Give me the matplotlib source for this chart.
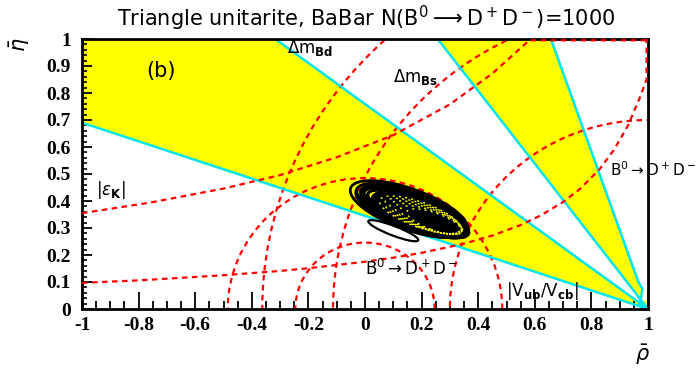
import numpy as np
import matplotlib.pyplot as plt
from matplotlib.patches import Polygon, Arc, Ellipse

# yellow bands (B0 -> D+D-), corners
band1_x = [-1.0, -1.0, -0.317, 1.0]
band1_y = [0.69, 1.0, 1.0, 0.0]
band2_x = [0.257, 0.657, 0.966, 0.98, 0.976, 0.97, 1.0]
band2_y = [1.0, 1.0, 0.10, 0.075, 0.045, 0.02, 0.0]
tip_x = [0.96, 0.995, 0.995]
tip_y = [0.012, 0.0, 0.035]

# cyan band edges
cyan_lines = [
    ([-1.0, 1.0], [0.69, 0.0]),
    ([-0.317, 1.0], [1.0, 0.0]),
    ([0.257, 1.0], [1.0, 0.0]),
    (band2_x[1:6], band2_y[1:6]),
]

# |Vub/Vcb| circles around (0,0), dm circles around (1,0)
circ_cx = [0.0, 0.0, 1.0, 1.0, 1.0]
circ_r = [0.485, 0.246, 1.363, 1.113, 0.70]

# |eps_K| hyperbolas (clipped onto the frame like in the original)
epsk1_x = [-1.0, -0.76, -0.5, -0.3, -0.1, 0.1, 0.3, 0.45, 0.58, 0.995]
epsk1_y = [0.355, 0.394, 0.446, 0.496, 0.562, 0.644, 0.758, 0.872, 0.995, 0.995]
epsk2_x = [-1.0, -0.8, -0.5, -0.3, -0.2, 0.0, 0.1, 0.2, 0.35, 0.45, 0.55,
           0.62, 0.7, 0.76, 0.83, 0.88, 0.93, 0.97, 0.995, 0.995]
epsk2_y = [0.097, 0.106, 0.125, 0.141, 0.151, 0.175, 0.19, 0.208, 0.242,
           0.272, 0.311, 0.346, 0.396, 0.445, 0.519, 0.59, 0.681, 0.78, 0.85, 1.0]

# likelihood contour rings
ring_cx = [0.155, 0.165, 0.175, 0.185, 0.195, 0.205, 0.215, 0.225, 0.235, 0.245, 0.255,
           0.14, 0.125, 0.11, 0.095, 0.15, 0.17]
ring_cy = [0.37, 0.365, 0.36, 0.355, 0.35, 0.345, 0.34, 0.335, 0.33, 0.325, 0.32,
           0.38, 0.385, 0.39, 0.395, 0.36, 0.352]
ring_w = [0.44, 0.42, 0.40, 0.38, 0.36, 0.34, 0.32, 0.30, 0.28, 0.26, 0.23,
          0.36, 0.30, 0.24, 0.18, 0.20, 0.12]
ring_h = [0.15, 0.143, 0.136, 0.129, 0.122, 0.115, 0.108, 0.101, 0.094, 0.087, 0.078,
          0.12, 0.10, 0.085, 0.065, 0.07, 0.04]
ring_ang = -21
loop_c = (0.10, 0.29)
loop_w, loop_h, loop_ang = 0.19, 0.035, -22

xticks = [-1, -0.8, -0.6, -0.4, -0.2, 0, 0.2, 0.4, 0.6, 0.8, 1]
xlabels = ['-1', '-0.8', '-0.6', '-0.4', '-0.2', '0', '0.2', '0.4', '0.6', '0.8', '1']
yticks = [0, 0.1, 0.2, 0.3, 0.4, 0.5, 0.6, 0.7, 0.8, 0.9, 1]
ylabels = ['0', '0.1', '0.2', '0.3', '0.4', '0.5', '0.6', '0.7', '0.8', '0.9', '1']

W, H = 696, 372
fig = plt.figure(figsize=(W / 100, H / 100), dpi=100)
ax = fig.add_axes([82 / W, 1 - 309 / H, 566 / W, 270 / H])
ax.set_xlim(-1, 1)
ax.set_ylim(0, 1)

yel = '#ffff00'
cyan = '#00e5ee'
ax.add_patch(Polygon(list(zip(band1_x, band1_y)), closed=True, fc=yel, ec='none', zorder=1))
ax.add_patch(Polygon(list(zip(band2_x, band2_y)), closed=True, fc=yel, ec='none', zorder=1))
ax.add_patch(Polygon(list(zip(tip_x, tip_y)), closed=True, fc=yel, ec='none', zorder=1))

dash = (0, (2.5, 2.0))
for cx, r in zip(circ_cx, circ_r):
    ax.add_patch(Arc((cx, 0), 2 * r, 2 * r, theta1=0, theta2=180, color='red',
                     lw=1.6, linestyle=dash, zorder=3))
ax.plot(epsk1_x, epsk1_y, color='red', lw=1.6, linestyle=dash, zorder=7)
ax.plot(epsk2_x, epsk2_y, color='red', lw=1.6, linestyle=dash, zorder=7)

for lx, ly in cyan_lines:
    ax.plot(lx, ly, color=cyan, lw=1.8, zorder=4)

# contour blob: dark core with yellow specks, rings around it
ax.add_patch(Ellipse((ring_cx[4], ring_cy[4]), ring_w[4], ring_h[4], angle=ring_ang,
                     fc='black', ec='none', zorder=5))
for cx, cy, w, h in zip(ring_cx, ring_cy, ring_w, ring_h):
    ax.add_patch(Ellipse((cx, cy), w, h, angle=ring_ang, fc='none', ec='black',
                         lw=2.0, zorder=5))
for cx, cy, w, h in zip(ring_cx[5:11], ring_cy[5:11], ring_w[5:11], ring_h[5:11]):
    ax.add_patch(Ellipse((cx - 0.01, cy + 0.004), w * 0.9, h * 0.8, angle=ring_ang, fc='none',
                         ec=yel, lw=1.0, linestyle=(0, (1.5, 3)), zorder=5.5))
ax.add_patch(Ellipse(loop_c, loop_w, loop_h, angle=loop_ang, fc='none', ec='black',
                     lw=1.6, zorder=5))

for s in ax.spines.values():
    s.set_linewidth(2)
    s.set_zorder(6)

tf = {'family': 'Liberation Serif', 'weight': 'bold', 'size': 14}
ax.set_xticks(xticks)
ax.set_xticklabels(xlabels, fontdict=tf)
ax.set_yticks(yticks)
ax.set_yticklabels(ylabels, fontdict=tf)
ax.set_xticks(np.arange(-1, 1.001, 0.05), minor=True)
ax.set_yticks(np.arange(0, 1.001, 0.02), minor=True)
ax.tick_params(axis='x', which='major', direction='in', length=12, width=1.3, pad=6)
ax.tick_params(axis='x', which='minor', direction='in', length=6, width=1.3)
ax.tick_params(axis='y', which='major', direction='in', length=7, width=1.3, pad=8)
ax.tick_params(axis='y', which='minor', direction='in', length=3.5, width=1.2)

sans = 'DejaVu Sans'
fig.text(366 / W, 1 - 18 / H, r'Triangle unitarite, BaBar N(B$^0\longrightarrow$D$^+$D$^-$)=1000',
         ha='center', va='center', fontsize=15, family=sans)
fig.text(643 / W, 1 - 355 / H, r'$\bar{\rho}$', ha='center', va='center', fontsize=15)
fig.text(20 / W, 1 - 45 / H, r'$\bar{\eta}$', ha='center', va='center', fontsize=15, rotation=90)

ax.text(-0.72, 0.88, '(b)', fontsize=15, family=sans, ha='center', va='center', zorder=7)
ax.text(-0.274, 0.965, r'$\Delta$m$_{\mathbf{Bd}}$', fontsize=12, family=sans, ha='left', va='center', zorder=7)
ax.text(0.10, 0.86, r'$\Delta$m$_{\mathbf{Bs}}$', fontsize=12, family=sans, ha='left', va='center', zorder=7)
ax.text(-0.95, 0.44, r'|$\varepsilon_{\mathbf{K}}$|', fontsize=12, family=sans, ha='left', va='center', zorder=7)
ax.text(0.0, 0.15, r'B$^0\rightarrow$D$^+$D$^-$', fontsize=12, family=sans, ha='left', va='center', zorder=7)
ax.text(0.865, 0.515, r'B$^0\rightarrow$D$^+$D$^-$', fontsize=11, family=sans, ha='left', va='center', zorder=7, clip_on=False)
ax.text(0.50, 0.065, r'|V$_{\mathbf{ub}}$/V$_{\mathbf{cb}}$|', fontsize=12, family=sans, ha='left', va='center', zorder=7)

fig.savefig('out.png', dpi=100)
